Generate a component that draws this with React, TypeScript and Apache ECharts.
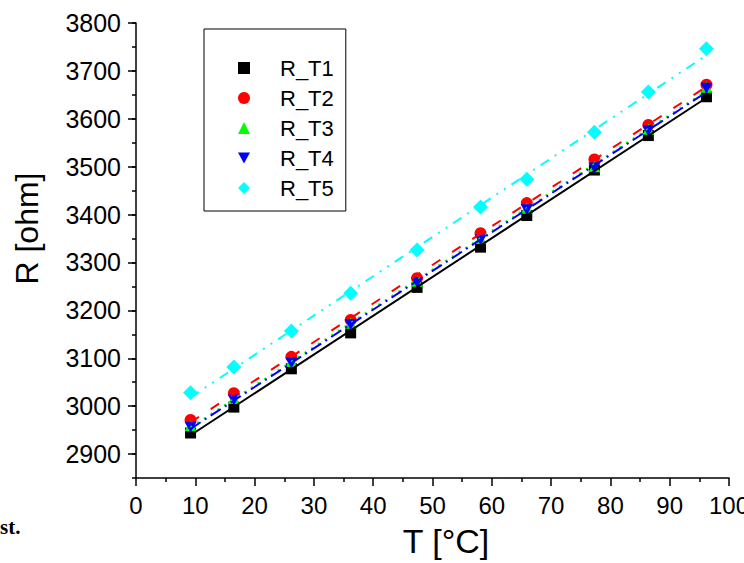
import React, { useEffect, useRef } from 'react';
import * as echarts from 'echarts';

const temps = [9.2, 16.5, 26.2, 36.2, 47.4, 58.1, 65.9, 77.3, 86.4, 96.2];
const rT1 = [2944, 2998, 3078, 3153, 3248, 3332, 3398, 3493, 3565, 3646];
const rT2 = [2971, 3027, 3103, 3180, 3267, 3361, 3424, 3515, 3587, 3671];
const rT3 = [2959, 3016, 3093, 3173, 3261, 3350, 3413, 3500, 3578, 3666];
const rT4 = [2956, 3013, 3090, 3170, 3258, 3347, 3410, 3497, 3575, 3664];
const rT5 = [3028, 3082, 3157, 3236, 3326, 3416, 3474, 3572, 3656, 3746];

const seriesNames = ['R_T1', 'R_T2', 'R_T3', 'R_T4', 'R_T5'];
const seriesValues = [rT1, rT2, rT3, rT4, rT5];
const colors = ['#000000', '#ff0000', '#00ff00', '#0000ff', '#00ffff'];
const symbols = ['rect', 'circle', 'triangle', 'path://M0,0L10,0L5,9Z', 'diamond'];
const symbolSizes: any[] = [11, 12, [12, 11], [12, 11], 15];
const fitDash: any[] = ['solid', [10, 14], [2, 6], [12, 5, 2, 5], [10, 7, 2, 7, 2, 7]];

const yTicks = [2900, 3000, 3100, 3200, 3300, 3400, 3500, 3600, 3700, 3800];

const FONT = '"Liberation Sans", Arial, Helvetica, sans-serif';

function linFit(xs: number[], ys: number[]) {
  const n = xs.length;
  let sx = 0, sy = 0, sxx = 0, sxy = 0;
  for (let i = 0; i < n; i++) {
    sx += xs[i]; sy += ys[i]; sxx += xs[i] * xs[i]; sxy += xs[i] * ys[i];
  }
  const b = (n * sxy - sx * sy) / (n * sxx - sx * sx);
  const a = (sy - b * sx) / n;
  const x0 = xs[0];
  const x1 = xs[n - 1];
  return [[x0, a + b * x0], [x1, a + b * x1]];
}

export default function App() {
  const ref = useRef<HTMLDivElement>(null);
  useEffect(() => {
    document.body.style.margin = '0';
    if (!ref.current) return;
    const chart = echarts.init(ref.current, undefined, { renderer: 'svg' });

    const axisLineStyle = { color: '#000', width: 1.5 };
    const plain = (v: number) => String(v);

    const scatterSeries = seriesNames.map((name, i) => ({
      name,
      type: 'scatter',
      data: temps.map((t, j) => [t, seriesValues[i][j]]),
      symbol: symbols[i],
      symbolSize: symbolSizes[i],
      itemStyle: { color: colors[i], opacity: 1 },
      z: 3,
      silent: true,
    }));

    const fitSeries = seriesNames.map((name, i) => ({
      name: name + ' fit',
      type: 'line',
      data: linFit(temps, seriesValues[i]),
      symbol: 'none',
      showSymbol: false,
      lineStyle: { color: colors[i], width: 2, type: fitDash[i] },
      z: 4,
      silent: true,
    }));

    chart.setOption({
      animation: false,
      backgroundColor: '#ffffff',
      grid: {
        left: 136,
        right: 15,
        top: 23,
        bottom: 85,
        containLabel: false,
        outerBoundsMode: 'none',
      },
      legend: {
        data: seriesNames.map((n, i) => ({ name: n, icon: symbols[i] })),
        orient: 'vertical',
        left: 204,
        top: 29,
        padding: [28, 12, 12, 34],
        itemGap: 8,
        itemWidth: 12,
        itemHeight: 12,
        borderColor: '#000',
        borderWidth: 1,
        borderRadius: 0,
        selectedMode: false,
        textStyle: {
          fontSize: 22,
          lineHeight: 22,
          color: '#000',
          fontFamily: FONT,
          padding: [0, 0, 0, 25],
        },
      },
      xAxis: {
        type: 'value',
        min: 0,
        max: 100,
        interval: 10,
        axisLine: { show: true, lineStyle: axisLineStyle },
        axisTick: { show: true, length: 8, lineStyle: axisLineStyle },
        minorTick: { show: true, splitNumber: 2, length: 4, lineStyle: axisLineStyle },
        axisLabel: { fontSize: 24, color: '#000', fontFamily: FONT, margin: 15, formatter: plain },
        splitLine: { show: false },
        minorSplitLine: { show: false },
        name: 'T [°C]',
        nameLocation: 'middle',
        nameGap: 46,
        nameTextStyle: { fontSize: 34, color: '#000', fontFamily: FONT, padding: [0, 0, 0, 27] },
      },
      yAxis: [
        {
          type: 'value',
          min: 2850,
          max: 3800,
          interval: 50,
          position: 'left',
          axisLine: { show: true, lineStyle: axisLineStyle },
          axisTick: { show: true, length: 8, lineStyle: axisLineStyle, customValues: yTicks },
          axisLabel: {
            fontSize: 25,
            color: '#000',
            fontFamily: FONT,
            margin: 15,
            customValues: yTicks,
            formatter: plain,
          },
          splitLine: { show: false },
          name: 'R [ohm]',
          nameLocation: 'middle',
          nameGap: 93,
          nameTextStyle: { fontSize: 32, color: '#000', fontFamily: FONT, padding: [0, 0, 0, 44] },
        },
        {
          type: 'value',
          min: 2850,
          max: 3800,
          interval: 50,
          position: 'left',
          axisLine: { show: false },
          axisTick: { show: true, length: 4, lineStyle: axisLineStyle },
          axisLabel: { show: false },
          splitLine: { show: false },
        },
      ],
      graphic: [
        {
          type: 'text',
          x: 0,
          y: 516,
          style: {
            text: 'st.',
            fontSize: 21,
            fontWeight: 'bold',
            fontFamily: '"Liberation Serif", "Times New Roman", serif',
            fill: '#000',
            verticalAlign: 'top',
            align: 'left',
          },
        },
      ],
      series: [...fitSeries, ...scatterSeries],
    });

    return () => chart.dispose();
  }, []);

  return <div ref={ref} style={{ width: 744, height: 563 }} />;
}
